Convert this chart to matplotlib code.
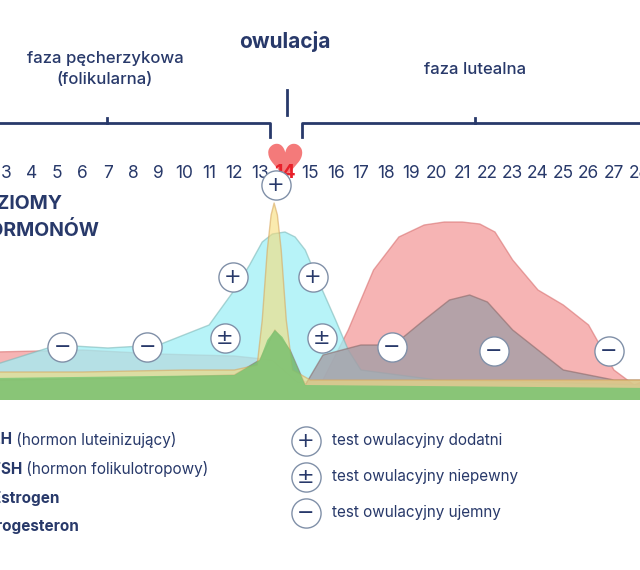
import matplotlib
matplotlib.use("Agg")
import matplotlib.pyplot as plt

NAVY = "#28396a"
BASE = 400

day_labels = list(range(3, 29))

lh_days = [2.5, 6, 10, 12, 12.9, 13.1, 13.3, 13.45, 13.57, 13.7, 13.85, 14.05, 14.3, 15, 20, 28.5]
lh_vals = [28, 28, 30, 30, 35, 80, 150, 185, 197, 185, 150, 80, 30, 20, 20, 20]

fsh_days = [2.5, 5, 7, 9, 11, 12, 12.6, 13.1, 13.5, 14, 14.4, 14.8, 15.3, 16, 16.5, 17, 20, 28.5]
fsh_vals = [35, 55, 52, 55, 75, 110, 135, 158, 166, 168, 163, 150, 120, 80, 50, 30, 20, 15]

est_days = [2.5, 8, 12, 13, 13.6, 14.2, 14.8, 15.5, 17, 18.3, 19.5, 20.5, 21.3, 22, 23, 25, 27, 28.5]
est_vals = [20, 22, 25, 40, 70, 50, 15, 45, 55, 55, 80, 100, 105, 98, 70, 30, 20, 20]

prog_days = [2.5, 6, 9, 12, 13.5, 14.5, 15.5, 16.5, 17.5, 18.5, 19.5, 20.3, 21, 21.7, 22.3, 23, 24, 25, 26, 27, 27.8, 28.5]
prog_vals = [48, 50, 46, 44, 40, 18, 20, 70, 130, 163, 175, 178, 178, 176, 168, 140, 110, 95, 75, 30, 15, 22]

test_days = [13.64, 11.94, 15.1, 11.63, 15.46, 5.19, 8.55, 18.23, 22.26, 26.8]
test_y = [185, 277, 277, 338, 338, 347, 347, 347, 351, 351]
test_sym = ["+", "+", "+", "±", "±", "−", "−", "−", "−", "−"]

fig = plt.figure(figsize=(6.4, 5.7), dpi=100)
ax = fig.add_axes([0, 0, 1, 1])
d0 = 14 - 285 / 25.3
d1 = 14 + 355 / 25.3
ax.set_xlim(d0, d1)
ax.set_ylim(570, 0)
ax.axis("off")

def area(days, vals, color, edge, alpha, z):
    y = [BASE - v for v in vals]
    ax.fill_between(days, BASE, y, color=color, alpha=alpha, lw=0, zorder=z)
    ax.plot(days, y, color=edge, lw=1, alpha=0.6, zorder=z)

area(prog_days, prog_vals, "#f49b9b", "#d87070", 0.75, 1)
area(fsh_days, fsh_vals, "#9ff0f6", "#7fb8b8", 0.75, 2)
area(est_days, est_vals, "#a49ea6", "#8a6a6a", 0.8, 3)
area(lh_days, lh_vals, "#f7dc78", "#d8a860", 0.6, 4)
ax.fill_between([2.5, 12, 13, 13.3, 13.6, 13.9, 14.2, 14.8, 28.5], BASE,
                [BASE - v for v in [22, 25, 40, 60, 70, 63, 50, 15, 12]],
                color="#6fc46f", alpha=0.75, lw=0, zorder=5)

for d, y, s in zip(test_days, test_y, test_sym):
    ax.plot(d, y, "o", ms=21, mfc="white", mec="#8090a8", mew=1, zorder=10)
    ax.text(d, y, s, ha="center", va="center", fontsize=15, color=NAVY, zorder=11)

for d in day_labels:
    if d == 14:
        ax.text(d, 166, "♥", ha="center", va="center", fontsize=34, color="#f47a7a",
                family="DejaVu Sans", zorder=6)
        ax.text(d, 173, "14", ha="center", va="center", fontsize=14, color="#e8202a",
                weight="bold", family="Inter", zorder=7)
    else:
        ax.text(d, 173, str(d), ha="center", va="center", fontsize=12.5, color=NAVY,
                family="Inter")

ov = fig.add_axes([0, 0, 1, 1], facecolor="none")
ov.set_xlim(0, 640)
ov.set_ylim(570, 0)
ov.axis("off")
kw = dict(color=NAVY, lw=2)
ov.plot([0, 270, 270], [123, 123, 137], **kw)
ov.plot([107, 107], [118, 123], **kw)
ov.plot([287, 287], [90, 115], **kw)
ov.plot([302, 302, 640], [137, 123, 123], **kw)
ov.plot([475, 475], [118, 123], **kw)

F = "Inter"
ov.text(105, 58, "faza pęcherzykowa", ha="center", va="center", fontsize=12, color=NAVY, family=F, weight="medium")
ov.text(105, 80, "(folikularna)", ha="center", va="center", fontsize=12, color=NAVY, family=F, weight="medium")
ov.text(285, 42, "owulacja", ha="center", va="center", fontsize=15, color=NAVY, family=F, weight="bold")
ov.text(475, 70, "faza lutealna", ha="center", va="center", fontsize=12, color=NAVY, family=F, weight="medium")
ov.text(63, 204, "POZIOMY", ha="right", va="center", fontsize=14, color=NAVY, family=F, weight="bold")
ov.text(100, 231, "HORMONÓW", ha="right", va="center", fontsize=14, color=NAVY, family=F, weight="bold")

leg = [("LH", " (hormon luteinizujący)", -8, 440),
       ("FSH", " (hormon folikulotropowy)", -8, 469),
       ("Estrogen", "", -8, 498),
       ("Progesteron", "", -14, 527)]
for b, r, x, y in leg:
    t = ov.text(x, y, b, ha="left", va="center", fontsize=11, color=NAVY, family=F, weight="bold")
    if r:
        ov.annotate(r, xycoords=t, xy=(1, 0.5), va="center", ha="left", fontsize=11, color=NAVY, family=F)

for s, lab, y in [("+", "test owulacyjny dodatni", 441), ("±", "test owulacyjny niepewny", 477), ("−", "test owulacyjny ujemny", 513)]:
    ov.plot(306, y, "o", ms=21, mfc="white", mec="#8090a8", mew=1)
    ov.text(306, y, s, ha="center", va="center", fontsize=15, color=NAVY)
    ov.text(332, y, lab, ha="left", va="center", fontsize=11, color=NAVY, family=F)

fig.savefig("out.png", dpi=100)
